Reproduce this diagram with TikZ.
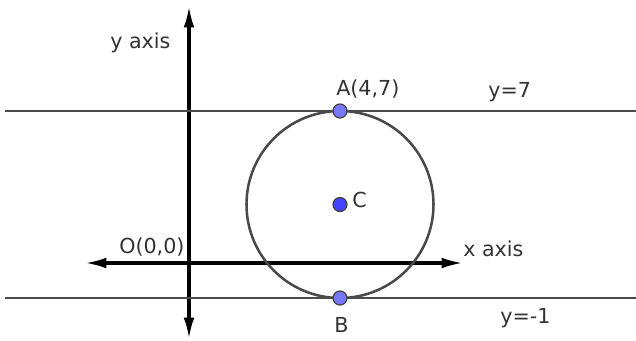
\documentclass[tikz,border=0pt]{standalone}
\usepackage{fontspec}
\setmainfont{DejaVu Sans}
\usepackage{tikz}
\usetikzlibrary{arrows.meta,positioning}
\definecolor{ptblue}{HTML}{7878FF}
\definecolor{ctrblue}{HTML}{4444FF}
\definecolor{lngray}{HTML}{4A4A4A}

\begin{document}
\begin{tikzpicture}[x=0.75pt, y=-0.75pt,
  font=\fontsize{15.5}{18}\selectfont,
  lbl/.style={text=black!80, inner sep=0pt, anchor=base west},
  axis/.style={line width=2.3pt, {Latex[length=16pt,width=8pt]}-{Latex[length=16pt,width=8pt]}},
  hline/.style={draw=lngray, line width=1.9pt},
  pt/.style={circle, draw=black!75, fill=ptblue, line width=0.9pt, minimum size=10.5pt, inner sep=0pt},
  ctr/.style={pt, fill=ctrblue}]
\useasboundingbox (0,0) rectangle (636,340);
% axes
\coordinate (ytop) at (189,6);
\coordinate (ybot) at (189,339);
\coordinate (xl) at (85,263);
\coordinate (xr) at (463,263);
\draw[axis] (ybot) -- (ytop);
\draw[axis] (xl) -- (xr);
% horizontal lines y=7 and y=-1
\coordinate (l7a) at (5,111);
\coordinate (l7b) at (636,111);
\coordinate (l1a) at (5,298);
\coordinate (l1b) at (636,298);
\draw[hline] (l7a) -- (l7b);
\draw[hline] (l1a) -- (l1b);
% circle
\coordinate (c) at (340,204.5);
\draw[hline] (c) circle[radius=93.5];
% points
\node[pt] (A) at (340,111) {};
\node[ctr] (C) at (340,204.5) {};
\node[pt] (B) at (340,298) {};
% labels
\node[lbl] (ylab) at (110,48) {y axis};
\node[lbl] (olab) at (119,253) {O(0,0)};
\node[lbl] (xlab) at (463,256) {x axis};
\node[lbl] (alab) at (336,95) {A(4,7)};
\node[lbl] (clab) at (352,207) {C};
\node[lbl] (blab) at (334,332) {B};
\node[lbl] (l7lab) at (488,97) {y=7};
\node[lbl] (l1lab) at (500,323) {y=-1};
\end{tikzpicture}
\end{document}
